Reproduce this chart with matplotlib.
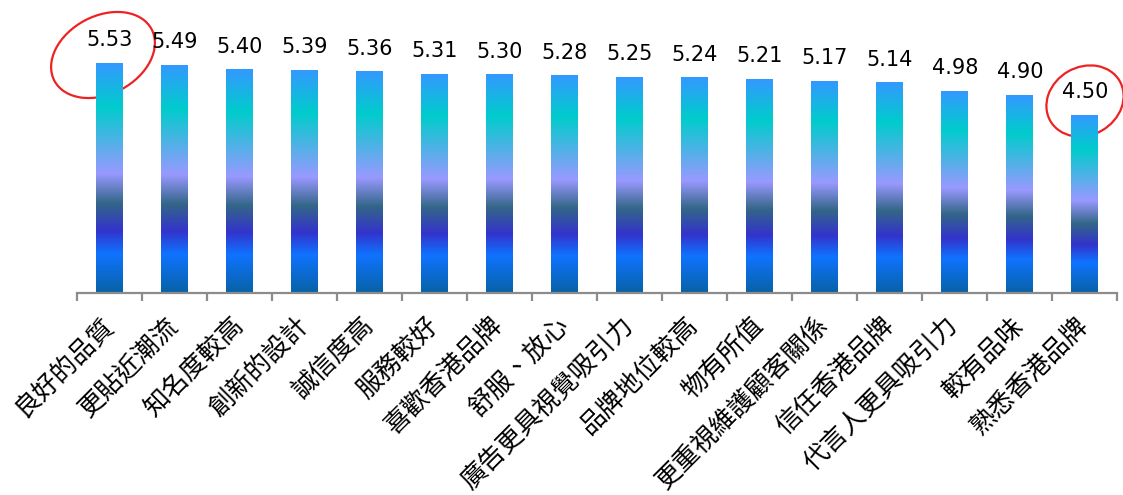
import numpy as np
import matplotlib
matplotlib.use("Agg")
import matplotlib.pyplot as plt
from matplotlib.colors import LinearSegmentedColormap
from matplotlib.patches import Ellipse
from matplotlib.transforms import IdentityTransform

categories = ["良好的品質", "更貼近潮流", "知名度較高", "創新的設計", "誠信度高",
              "服務較好", "喜歡香港品牌", "舒服、放心", "廣告更具視覺吸引力",
              "品牌地位較高", "物有所值", "更重視維護顧客關係", "信任香港品牌",
              "代言人更具吸引力", "較有品味", "熟悉香港品牌"]
scores = [5.53, 5.49, 5.40, 5.39, 5.36, 5.31, 5.30, 5.28, 5.25,
          5.24, 5.21, 5.17, 5.14, 4.98, 4.90, 4.50]

plt.rcParams['font.family'] = ['Noto Sans CJK TC', 'DejaVu Sans']

# vertical fill of each bar, top to bottom
grad = LinearSegmentedColormap.from_list("barfill", [
    (0.00, "#3399ff"),
    (0.19, "#00cccc"),
    (0.48, "#9999ff"),
    (0.61, "#336688"),
    (0.73, "#3333cc"),
    (0.83, "#0f73ff"),
    (1.00, "#0862a6"),
])

fig = plt.figure(figsize=(11.23, 4.95), dpi=100)
ax = fig.add_axes([0.0688, 0.409, 0.9261, 0.5125])

x = np.arange(len(categories))
ymin, ymax = 1, 6
bars = ax.bar(x, [s - ymin for s in scores], bottom=ymin, width=0.41,
              color="none", edgecolor="none")
col = np.linspace(0, 1, 256).reshape(-1, 1)
for b, s in zip(bars, scores):
    x0 = b.get_x()
    ax.imshow(col, cmap=grad, aspect="auto", origin="upper",
              extent=[x0, x0 + b.get_width(), ymin, s], zorder=2)
    ax.annotate(f"{s:.2f}", (x0 + b.get_width() / 2, s), xytext=(0, 9),
                textcoords="offset points", ha="center", va="bottom",
                fontsize=15, family="DejaVu Sans")

ax.set_xlim(-0.5, len(categories) - 0.5)
ax.set_ylim(ymin, ymax)

for side in ["left", "right", "top"]:
    ax.spines[side].set_visible(False)
ax.spines["bottom"].set_color("#8c8c8c")
ax.spines["bottom"].set_linewidth(1.6)
ax.set_yticks([])

ax.set_xticks(x)
ax.set_xticklabels(categories, rotation=45, ha="right", va="center",
                   rotation_mode="anchor", fontsize=18.5, fontweight="light")
ax.tick_params(axis="x", which="major", length=0, pad=21)
ax.set_xticks(np.arange(len(categories) + 1) - 0.5, minor=True)
ax.tick_params(axis="x", which="minor", length=6, width=1.6, color="#8c8c8c")

# red rings around the highest and lowest scores
for cx, cy, w, h, ang in [(103, 55, 110, 78, 28), (1085, 101, 80, 68, 30)]:
    ax.add_patch(Ellipse((cx, 495 - cy), w, h, angle=ang, fill=False,
                         edgecolor="#ee2222", linewidth=1.6,
                         transform=IdentityTransform(), clip_on=False))

fig.savefig("out.png", dpi=100)
